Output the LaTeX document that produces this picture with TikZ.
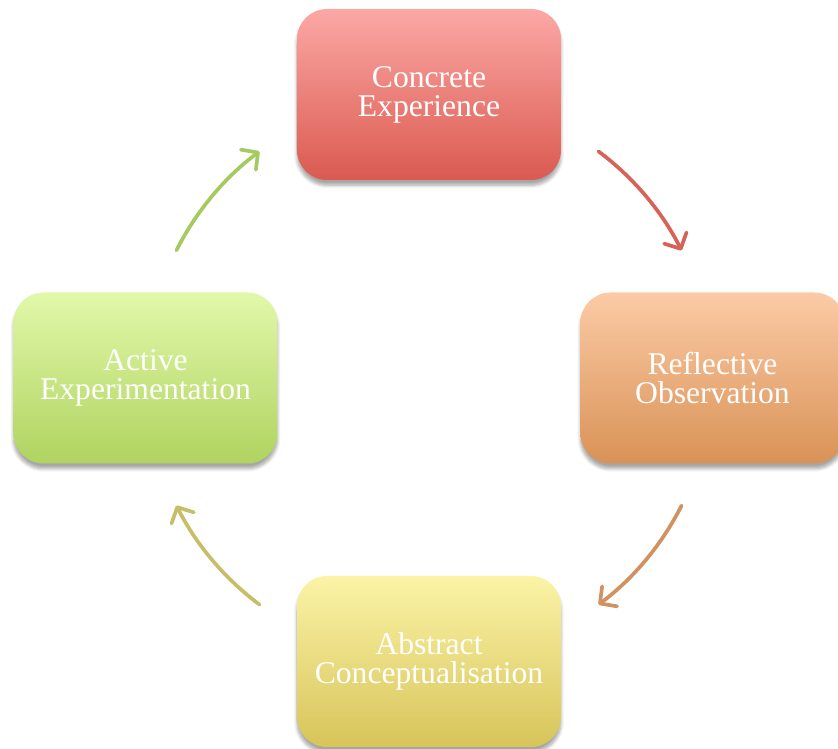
\documentclass[tikz,border=0pt]{standalone}
\usepackage{fontspec}
\setmainfont{Liberation Serif}
\usepackage{xcolor}
\usetikzlibrary{positioning, arrows.meta, shadows.blur, calc}

\definecolor{ceTop}{RGB}{252,168,165}
\definecolor{ceBot}{RGB}{218,90,80}
\definecolor{roTop}{RGB}{251,203,166}
\definecolor{roBot}{RGB}{217,146,86}
\definecolor{acTop}{RGB}{251,243,166}
\definecolor{acBot}{RGB}{215,196,90}
\definecolor{aeTop}{RGB}{225,248,170}
\definecolor{aeBot}{RGB}{176,211,96}
\definecolor{ceArrow}{RGB}{214,98,88}
\definecolor{roArrow}{RGB}{208,146,96}
\definecolor{acArrow}{RGB}{198,190,104}
\definecolor{aeArrow}{RGB}{164,202,96}

\begin{document}
\begin{tikzpicture}[
	stage/.style={rounded corners=0.6cm, minimum width=5.28cm, minimum height=3.42cm,
		align=center, text=white, font=\fontsize{18}{16.4}\selectfont,
		blur shadow={shadow xshift=0pt, shadow yshift=-3pt, shadow blur steps=6, shadow opacity=35}},
	cycarrow/.style={line width=2.1pt, line cap=round, -{Straight Barb[length=2.4mm, width=5mm, round]}}
]
	\useasboundingbox (-8.58,7.56) rectangle (8.18,-7.42);
	\coordinate (hub) at (0,0);

	% stages of the cycle
	\foreach \name/\ang/\txt in {
		ce/90/{Concrete\\Experience},
		ro/0/{Reflective\\Observation},
		ac/-90/{Abstract\\Conceptualisation},
		ae/180/{Active\\Experimentation}} {
		\node[stage, top color=\name Top, bottom color=\name Bot] (\name) at ($(hub)+(\ang:5.67)$) {\txt};
	}

	% arrows between stages
	\foreach \from/\to/\col in {
		53.2/26.8/ceArrow,
		-26.8/-53.2/roArrow,
		233.2/206.8/acArrow,
		153.2/126.8/aeArrow} {
		\draw[cycarrow, \col] ($(hub)+(\from:5.66)$) arc[start angle=\from, end angle=\to, radius=5.66];
	}

\end{tikzpicture}
\end{document}
